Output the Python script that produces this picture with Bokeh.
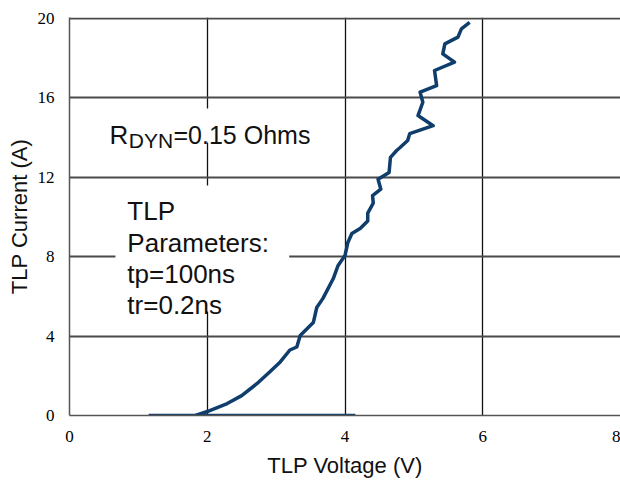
from bokeh.plotting import figure
from bokeh.models import FixedTicker, BoxAnnotation, Label, Range1d
from bokeh.embed import file_html
from bokeh.resources import INLINE

# TLP I-V curve
voltage = [1.83, 2.00, 2.29, 2.50, 2.72, 2.91, 3.06, 3.20, 3.30, 3.35, 3.54, 3.59, 3.68, 3.83,
           3.90, 4.00, 4.04, 4.10, 4.22, 4.33, 4.33, 4.41, 4.40, 4.52, 4.48, 4.64,
           4.66, 4.75, 4.80, 4.91, 4.94, 5.28, 5.06, 5.13, 5.09, 5.33, 5.30, 5.59,
           5.42, 5.45, 5.64, 5.69, 5.81]
current = [0.00, 0.20, 0.60, 1.00, 1.60, 2.20, 2.70, 3.30, 3.45, 4.03, 4.68, 5.44, 5.90, 6.90,
           7.56, 8.06, 8.70, 9.17, 9.42, 9.80, 10.20, 10.70, 11.08, 11.40, 11.90, 12.24,
           13.00, 13.35, 13.50, 13.85, 14.20, 14.60, 15.11, 15.78, 16.29, 16.62, 17.38, 17.80,
           18.22, 18.72, 19.06, 19.48, 19.80]
# flat trace along zero current
off_voltage = [1.15, 4.15]
off_current = [0.0, 0.0]

x_ticks = [0, 2, 4, 6, 8]
y_ticks = [0, 4, 8, 12, 16, 20]

p = figure(width=620, height=481, output_backend="svg", toolbar_location=None,
           x_range=Range1d(0, 8.0), y_range=Range1d(0, 20.05),
           min_border_left=69, min_border_right=0, min_border_top=17, min_border_bottom=66)
p.outline_line_color = None
p.background_fill_color = "white"
p.border_fill_color = "white"

p.xaxis.ticker = FixedTicker(ticks=x_ticks)
p.yaxis.ticker = FixedTicker(ticks=y_ticks)
p.xgrid.ticker = FixedTicker(ticks=x_ticks[1:-1])
p.ygrid.ticker = FixedTicker(ticks=y_ticks[1:])
p.xgrid.grid_line_color = "#111111"
p.xgrid.grid_line_width = 1.3
p.ygrid.grid_line_color = "#4a4a4a"
p.ygrid.grid_line_width = 2

for ax in (p.xaxis, p.yaxis):
    ax.axis_line_color = "#555555"
    ax.axis_line_width = 1.5
    ax.major_tick_line_color = None
    ax.minor_tick_line_color = None
    ax.major_label_text_font = "Liberation Serif"
    ax.major_label_text_font_size = "17px"
    ax.major_label_text_color = "#000000"
    ax.axis_label_text_font = "Liberation Sans"
    ax.axis_label_text_font_size = "22px"
    ax.axis_label_text_font_style = "normal"
    ax.axis_label_text_color = "#111111"

p.xaxis.axis_label = "TLP Voltage (V)"
p.yaxis.axis_label = "TLP Current (A)"
p.xaxis.major_label_standoff = 9
p.xaxis.axis_label_standoff = 8
p.yaxis.major_label_standoff = 9
p.yaxis.axis_label_standoff = 3

line_color = "#0f3d6c"
p.line(off_voltage, off_current, line_color=line_color, line_width=3.5)
p.line(voltage, current, line_color=line_color, line_width=3.5, line_join="round")

# white backgrounds behind annotation text
p.add_layout(BoxAnnotation(left=0.45, right=3.78, bottom=13.75, top=15.47,
                           fill_color="white", fill_alpha=1, line_color=None))
p.add_layout(BoxAnnotation(left=0.667, right=3.19, bottom=5.24, top=11.59,
                           fill_color="white", fill_alpha=1, line_color=None))

txt = dict(text_font="Liberation Sans", text_color="#111111", text_baseline="alphabetic")
p.add_layout(Label(x=0.58, y=14.15, text="R", text_font_size="26px", **txt))
p.add_layout(Label(x=0.86, y=13.85, text="DYN", text_font_size="21px", **txt))
p.add_layout(Label(x=1.51, y=14.15, text="=0.15 Ohms", text_font_size="25px", **txt))

param_lines = ["TLP", "Parameters:", "tp=100ns", "tr=0.2ns"]
param_y = [10.29, 8.68, 7.12, 5.56]
for t, yy in zip(param_lines, param_y):
    p.add_layout(Label(x=0.84, y=yy, text=t, text_font_size="26px", **txt))

open("out.html", "w").write(file_html(p, INLINE))
